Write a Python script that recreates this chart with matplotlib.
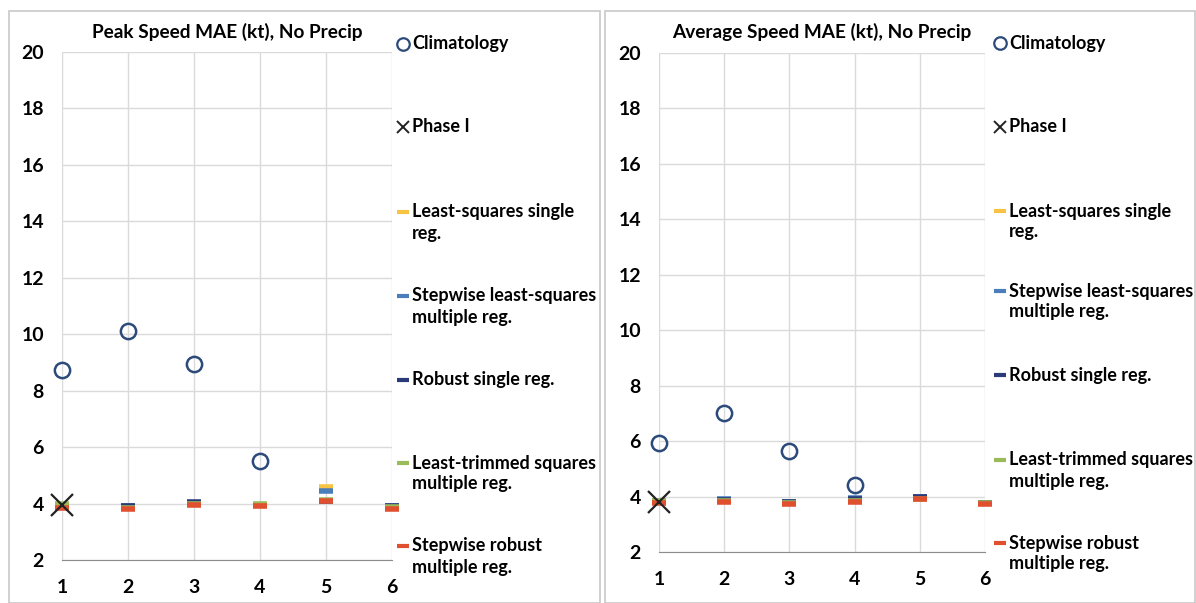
import matplotlib.pyplot as plt
from matplotlib.patches import Rectangle

plt.rcParams['font.family'] = ['Lato', 'DejaVu Sans']
plt.rcParams['font.weight'] = 'bold'

hours = [1, 2, 3, 4, 5, 6]

# Peak speed panel
peak_clim = [8.75, 10.1, 8.95, 5.5]
peak_phase1 = [3.95]
peak_models = {
    'Least-squares single reg.': [3.95, 3.88, 4.0, 3.95, 4.6, 3.88],
    'Stepwise least-squares multiple reg.': [3.95, 3.9, 4.02, 3.95, 4.45, 3.9],
    'Robust single reg.': [3.95, 3.92, 4.05, 3.95, 4.1, 3.92],
    'Least-trimmed squares multiple reg.': [3.98, 3.85, 3.98, 4.0, 4.12, 3.88],
    'Stepwise robust multiple reg.': [3.85, 3.8, 3.95, 3.9, 4.08, 3.82],
}

# Average speed panel
avg_clim = [5.93, 7.02, 5.65, 4.4]
avg_phase1 = [3.8]
avg_models = {
    'Least-squares single reg.': [3.85, 3.85, 3.78, 3.9, 3.95, 3.75],
    'Stepwise least-squares multiple reg.': [3.85, 3.92, 3.8, 3.95, 3.97, 3.76],
    'Robust single reg.': [3.82, 3.88, 3.82, 3.92, 3.98, 3.77],
    'Least-trimmed squares multiple reg.': [3.85, 3.85, 3.76, 3.85, 3.92, 3.75],
    'Stepwise robust multiple reg.': [3.78, 3.8, 3.72, 3.8, 3.9, 3.74],
}

model_colors = ['#F6C343', '#4A7EBB', '#2B3A78', '#9BBB59', '#E0502F']
legend_labels = ['Climatology', 'Phase I',
                 'Least-squares single\nreg.',
                 'Stepwise least-squares\nmultiple reg.',
                 'Robust single reg.',
                 'Least-trimmed squares\nmultiple reg.',
                 'Stepwise robust\nmultiple reg.']

W, H = 1196, 603
fig = plt.figure(figsize=(W / 100, H / 100), dpi=100)

# panel frames
for x0, x1 in [(9, 600), (605, 1195)]:
    fig.patches.append(Rectangle((x0 / W, 0), (x1 - x0) / W, (H - 11) / H,
                                 transform=fig.transFigure, fill=False,
                                 edgecolor='#C8C8C8', lw=1.2))


def draw_panel(rect, title, clim, phase1, models, legend_x, legend_ys):
    l, r, top, bot = rect
    ax = fig.add_axes([l / W, 1 - bot / H, (r - l) / W, (bot - top) / H])
    ax.set_xlim(1, 6)
    ax.set_ylim(2, 20)
    ax.set_xticks(hours)
    ax.set_yticks(range(2, 21, 2))
    ax.grid(True, color='#DADADA', lw=1)
    ax.set_axisbelow(True)
    for s in ['top', 'right', 'left']:
        ax.spines[s].set_visible(False)
    ax.spines['bottom'].set_color('#8C8C8C')
    ax.tick_params(length=0, labelsize=14, pad=13)
    ax.tick_params(axis='x', pad=14)
    for lab in ax.get_xticklabels() + ax.get_yticklabels():
        lab.set_fontweight('bold')

    ax.plot(hours[:len(clim)], clim, 'o', ms=11, mfc='none', mec='#2C4A7A',
            mew=1.8, clip_on=False, zorder=3)
    for (name, vals), c in zip(models.items(), model_colors):
        ax.plot(hours, vals, '_', ms=10, mew=4, color=c, clip_on=False, zorder=4)
    ax.plot(hours[:len(phase1)], phase1, 'x', ms=16, mew=1.6, color='#222222',
            clip_on=False, zorder=5)

    fig.text((l + r) / 2 / W, 1 - 32 / H, title, ha='center', va='center',
             fontsize=13.7, fontweight='bold')

    # legend column to the right of the plot area
    markers = [('o', '#2C4A7A'), ('x', '#222222')] + [('_', c) for c in model_colors]
    for lab, y, (m, c) in zip(legend_labels, legend_ys, markers):
        fy = 1 - y / H
        if m == 'o':
            kw = dict(marker='o', ms=9, mfc='none', mec=c, mew=1.6)
        elif m == 'x':
            kw = dict(marker='x', ms=9, color=c, mew=1.4)
        else:
            kw = dict(marker='_', ms=8, color=c, mew=3)
        fig.lines.append(plt.Line2D([legend_x / W], [fy], transform=fig.transFigure, **kw))
        for i, part in enumerate(lab.split('\n')):
            fig.text((legend_x + 9) / W, 1 - (y + 21 * i) / H, part, ha='left',
                     va='center', fontsize=13, fontweight='bold',
                     transform=fig.transFigure)
    return ax


draw_panel((62, 392, 52, 560), 'Peak Speed MAE (kt), No Precip',
           peak_clim, peak_phase1, peak_models, 403,
           [44, 127, 212, 296, 380, 463, 546])
draw_panel((659, 985, 53, 552), 'Average Speed MAE (kt), No Precip',
           avg_clim, avg_phase1, avg_models, 1000,
           [43, 127, 211, 291, 375, 460, 543])

plt.savefig('out.png', dpi=100)
